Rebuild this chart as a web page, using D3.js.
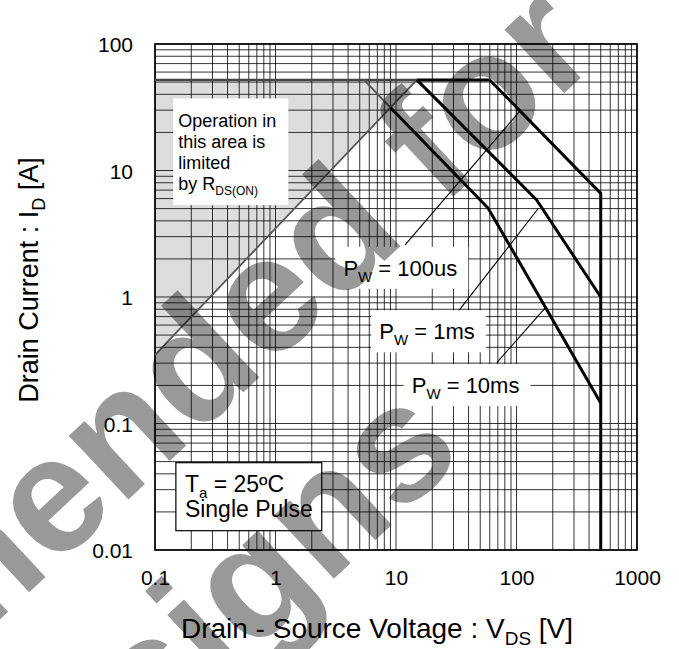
<!DOCTYPE html>
<html><head><meta charset="utf-8">
<script src="https://cdn.jsdelivr.net/npm/d3@7"></script>
<style>body{margin:0;background:#fff}svg{display:block}</style>
</head><body><svg id="c" width="679" height="649"></svg>
<script>
// ---- data ----
const xTickValues = [0.1, 1, 10, 100, 1000];
const xTickLabels = ["0.1", "1", "10", "100", "1000"];
const yTickValues = [0.01, 0.1, 1, 10, 100];
const yTickLabels = ["0.01", "0.1", "1", "10", "100"];

const currentLimit = [[0.1, 52], [14.9, 52]];
const rdsOnLine = [[0.1, 0.348], [14.9, 52]];
const rdsArea = [[0.1, 52], [14.9, 52], [0.1, 0.348]];
const pw100us = [[14.9, 52], [60, 52], [500, 6.6], [500, 0.01]];
const pw1ms = [[14.9, 52], [147, 5.85], [500, 1.0]];
const pw10ms = [[9.0, 31.4], [58, 5.06], [500, 0.145]];
const pw10msExt = [[5.42, 52], [9.0, 31.4]];

const pulseNames = ["100us", "1ms", "10ms"];
const pulseLabelAt = [[3.66, 1.47], [7.26, 0.463], [13.5, 0.174]];
const pulseLeaders = [
  [[11.9, 2.58], [107, 29.6]],
  [[31.9, 0.743], [152, 5.03]],
  [[68.6, 0.303], [172.6, 0.815]]
];
const rdsTextAt = [0.156, 21.9];
const rdsTextLines = ["Operation in", "this area is", "limited", "by R"];
const condTextAt = [0.177, 0.0289];
const watermarkLines = ["Not Recommended for", "New Designs"];

// ---- chart ----
const svg = d3.select("#c");
const FONT = "'Liberation Sans', Arial, Helvetica, sans-serif";
const x = d3.scaleLog().domain([0.1, 1000]).range([155, 637]);
const y = d3.scaleLog().domain([0.01, 100]).range([550, 44]);
const line = d3.line().x(d => x(d[0])).y(d => y(d[1]));

svg.append("rect").attr("width", 679).attr("height", 649).attr("fill", "#fff");

// shaded RDS(on) region
svg.append("path").attr("d", line(rdsArea) + "Z").attr("fill", "#dcdcdc");

// grid
const g = svg.append("g").attr("stroke", "#000").attr("stroke-width", 0.8);
g.selectAll("line.v").data(x.ticks()).join("line").attr("class", "v")
  .attr("x1", d => x(d)).attr("x2", d => x(d)).attr("y1", y(100)).attr("y2", y(0.01));
g.selectAll("line.h").data(y.ticks()).join("line").attr("class", "h")
  .attr("y1", d => y(d)).attr("y2", d => y(d)).attr("x1", x(0.1)).attr("x2", x(1000));

// frame
svg.append("rect").attr("x", x(0.1)).attr("y", y(100))
  .attr("width", x(1000) - x(0.1)).attr("height", y(0.01) - y(100))
  .attr("fill", "none").attr("stroke", "#000").attr("stroke-width", 1.6);

// axes labels
const xAxis = d3.axisBottom(x).tickValues(xTickValues).tickSize(0).tickPadding(0)
  .tickFormat((d, i) => xTickLabels[i]);
const xa = svg.append("g").attr("transform", `translate(0,${y(0.01)})`).call(xAxis);
xa.select(".domain").remove();
xa.selectAll("text").attr("font-family", FONT).attr("font-size", 21).attr("fill", "#000")
  .attr("y", 35).attr("dy", 0);

const yAxis = d3.axisLeft(y).tickValues(yTickValues).tickSize(0).tickPadding(22)
  .tickFormat((d, i) => yTickLabels[i]);
const ya = svg.append("g").attr("transform", `translate(${x(0.1)},0)`).call(yAxis);
ya.select(".domain").remove();
ya.selectAll("text").attr("font-family", FONT).attr("font-size", 21).attr("fill", "#000")
  .attr("dy", "0.36em");

// RDS line & current limit (grey)
svg.append("path").attr("d", line(rdsOnLine)).attr("fill", "none")
  .attr("stroke", "#555").attr("stroke-width", 1.8);
svg.append("path").attr("d", line(currentLimit)).attr("fill", "none")
  .attr("stroke", "#444").attr("stroke-width", 2.2);
svg.append("path").attr("d", line(pw10msExt)).attr("fill", "none")
  .attr("stroke", "#555").attr("stroke-width", 2);

// SOA curves
[pw100us, pw1ms, pw10ms].forEach(s => {
  svg.append("path").attr("d", line(s)).attr("fill", "none")
    .attr("stroke", "#000").attr("stroke-width", 3).attr("stroke-linejoin", "round");
});

// leaders
pulseLeaders.forEach(l => {
  svg.append("path").attr("d", line(l)).attr("fill", "none")
    .attr("stroke", "#000").attr("stroke-width", 1.1);
});

// RDS text box
{
  const tx = x(rdsTextAt[0]), ty = y(rdsTextAt[1]);
  const box = svg.append("rect").attr("fill", "#fff");
  const t = svg.append("text").attr("font-family", FONT).attr("font-size", 18).attr("fill", "#000");
  rdsTextLines.forEach((s, i) => {
    t.append("tspan").attr("x", tx).attr("y", ty + i * 20.7).text(s);
    if (i === rdsTextLines.length - 1) {
      t.append("tspan").attr("font-size", 12).attr("dy", 5).text("DS(ON)");
    }
  });
  box.attr("x", tx - 5).attr("y", ty - 29).attr("width", 115).attr("height", 106.7);
}

// pulse width labels
pulseNames.forEach((n, i) => {
  const tx = x(pulseLabelAt[i][0]), ty = y(pulseLabelAt[i][1]);
  const box = svg.append("rect").attr("fill", "#fff");
  const t = svg.append("text").attr("font-family", FONT).attr("font-size", 22).attr("fill", "#000")
    .attr("x", tx).attr("y", ty);
  t.append("tspan").text("P");
  t.append("tspan").attr("font-size", 15).attr("dy", 6).text("W");
  t.append("tspan").attr("dy", -6).text(" = " + n);
  const bb = t.node().getBBox();
  box.attr("x", tx - 8).attr("y", ty - 29).attr("width", bb.width + 19).attr("height", 42);
});

// condition box
{
  const tx = x(condTextAt[0]), ty = y(condTextAt[1]);
  const box = svg.append("rect").attr("fill", "#fff").attr("stroke", "#000").attr("stroke-width", 1.2);
  const t = svg.append("text").attr("font-family", FONT).attr("font-size", 23).attr("fill", "#000");
  t.append("tspan").attr("x", tx).attr("y", ty).text("T");
  t.append("tspan").attr("font-size", 15).attr("dy", 6).text("a");
  t.append("tspan").attr("dy", -6).text(" = 25ºC");
  t.append("tspan").attr("x", tx).attr("y", ty + 25.6).text("Single Pulse");
  const bb = t.node().getBBox();
  box.attr("x", tx - 9).attr("y", ty - 29).attr("width", bb.width + 18).attr("height", 68);
}

// axis titles
{
  const t = svg.append("text").attr("font-family", FONT).attr("font-size", 28).attr("fill", "#000")
    .attr("text-anchor", "middle").attr("x", 377).attr("y", 638);
  t.append("tspan").text("Drain - Source Voltage : V");
  t.append("tspan").attr("font-size", 19).attr("dy", 7).text("DS");
  t.append("tspan").attr("dy", -7).text(" [V]");
}
{
  const t = svg.append("text").attr("font-family", FONT).attr("font-size", 27).attr("fill", "#000")
    .attr("text-anchor", "middle").attr("transform", "translate(38,280) rotate(-90)");
  t.append("tspan").text("Drain Current : I");
  t.append("tspan").attr("font-size", 18).attr("dy", 7).text("D");
  t.append("tspan").attr("dy", -7).text(" [A]");
}

// watermark
{
  const w = svg.append("g").attr("transform", "translate(603,57) rotate(-43)")
    .attr("font-family", FONT).attr("font-weight", "bold").attr("font-size", 165)
    .attr("fill", "#000").attr("fill-opacity", 0.4).attr("text-anchor", "middle");
  watermarkLines.forEach((s, i) => {
    w.append("text").attr("x", -885).attr("y", i * 198).text(s);
  });
}
</script></body></html>
